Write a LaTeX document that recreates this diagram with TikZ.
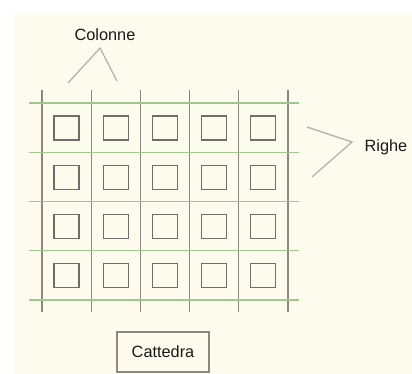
\documentclass[tikz,border=0pt]{standalone}
\usepackage{fontspec}
\setmainfont{Liberation Sans}
\definecolor{carta}{RGB}{253,251,238}
\definecolor{grigio}{RGB}{140,136,128}
\definecolor{verde}{RGB}{160,200,140}
\definecolor{scuro}{RGB}{112,109,104}
\definecolor{chiaro}{RGB}{180,180,172}
\begin{document}
\begin{tikzpicture}[x=1pt, y=-1pt, font=\fontsize{16.3}{19}\selectfont,
  colonna/.style={draw=grigio, line width=1.3pt},
  riga/.style={draw=verde, line width=1.1pt},
  banco/.style={draw=scuro, line width=1.2pt, minimum width=25pt, minimum height=24pt, inner sep=0pt},
  freccia/.style={draw=chiaro, line width=1.3pt},
  etichetta/.style={text=black!90},
]
  \useasboundingbox (0,0) rectangle (412,374);
  \fill[carta] (14,13) rectangle (412,374);

  % colonne (verticali) e righe (orizzontali) della griglia
  \foreach \i in {0,...,5} \draw[colonna] (42+49.2*\i,90) -- (42+49.2*\i,312);
  \foreach \j in {0,...,4} \draw[riga] (29,103+49.25*\j) -- (299,103+49.25*\j);

  % banchi: 5 per riga, 4 righe
  \foreach \i in {1,...,5}
    \foreach \j in {1,...,4}
      \node[banco] (b\i\j) at (17.3+49.2*\i, 78.75+49.25*\j) {};

  \node[etichetta] (colonne) at (105,35) {Colonne};
  \coordinate (pc) at (100,48);
  \coordinate (c1) at (68,83);
  \coordinate (c2) at (117,81);
  \draw[freccia] (c1) -- (pc) -- (c2);

  \node[etichetta] (righe) at (386,147) {Righe};
  \coordinate (pr) at (352,142);
  \coordinate (r1) at (307,127);
  \coordinate (r2) at (312,177);
  \draw[freccia] (r1) -- (pr) -- (r2);

  \node[draw=grigio, line width=1.1pt, etichetta, minimum width=92pt, minimum height=40pt] (cattedra) at (163,352) {Cattedra};
\end{tikzpicture}
\end{document}
